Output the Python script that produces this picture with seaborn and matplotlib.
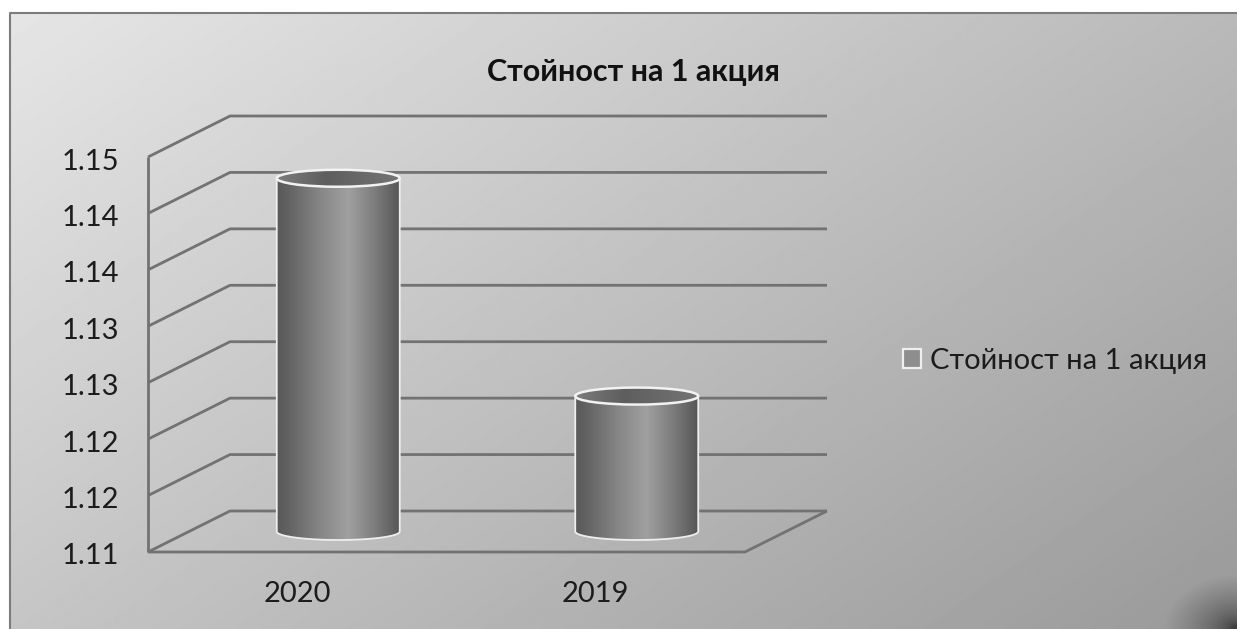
import numpy as np
import pandas as pd
import matplotlib
matplotlib.use("Agg")
import matplotlib.pyplot as plt
from matplotlib.colors import LinearSegmentedColormap
from matplotlib.patches import Ellipse, Patch, PathPatch
from matplotlib.path import Path
from matplotlib.transforms import Affine2D
import seaborn as sns

# Chart content
years = ["2020", "2019"]
share_values = [1.1463, 1.127]
series_name = "Стойност на 1 акция"
tick_values = [1.115, 1.12, 1.125, 1.13, 1.135, 1.14, 1.145, 1.15]
tick_labels = ["1.11", "1.12", "1.12", "1.13", "1.13", "1.14", "1.14", "1.15"]

W, H = 1237, 629
sns.set_theme(style="white")
plt.rcParams["font.family"] = ["Lato", "Noto Sans", "DejaVu Sans"]
INK = "#1c1c1c"
GRID = "#727272"

fig = plt.figure(figsize=(W / 100, H / 100), dpi=100, facecolor="white")

# Chart-area backdrop: diagonal grey gradient with a dark lower-right corner
bg = fig.add_axes([0, 0, 1, 1], zorder=0)
xx, yy = np.meshgrid(np.linspace(0, 1, W), np.linspace(0, 1, H))
shade = 0.90 - 0.30 * (0.58 * xx + 0.42 * yy)
corner = np.clip((np.hypot((1 - xx) * W, (1 - yy) * H * 1.35) - 5) / 68, 0, 1)
shade = shade * (0.42 + 0.58 * corner ** 0.6)
bg.imshow(shade, cmap="gray", vmin=0, vmax=1, aspect="auto",
          extent=(9, W, H, 12), interpolation="bilinear")
bg.plot([9.5, 9.5, W], [H, 12.5, 12.5], color="#7c7c7c", lw=1.5)
bg.set_xlim(0, W)
bg.set_ylim(H, 0)
bg.axis("off")

# Plot area: the front plane of the 3-D box
left, right, top, bottom = 148, 745, 157, 552
ax = fig.add_axes([left / W, 1 - bottom / H, (right - left) / W, (bottom - top) / H], zorder=1)
ax.patch.set_alpha(0)
frame = pd.DataFrame({"year": years, "value": share_values})
sns.barplot(data=frame, x="year", y="value", ax=ax, width=0.412, color="#808080", saturation=1)

ymin, ymax = tick_values[0], tick_values[-1]
ax.set_xlim(-0.5, 1.5)
ax.set_ylim(ymin, ymax)
unit_x = 2 / (right - left)
unit_y = (ymax - ymin) / (bottom - top)
depth_x, depth_y = 82 * unit_x, 41 * unit_y


def wall_line(xs, ys):
    ax.plot(xs, ys, color=GRID, lw=2.0, clip_on=False, zorder=1, solid_capstyle="butt")


# Side wall, back wall and floor
for v in tick_values:
    wall_line([-0.5, -0.5 + depth_x, 1.5 + depth_x], [v, v + depth_y, v + depth_y])
wall_line([-0.5, -0.5], [ymin, ymax])
wall_line([-0.5, 1.5, 1.5 + depth_x], [ymin, ymin, ymin + depth_y])

# Cylinders are built on the geometry of the seaborn bars
side_shade = LinearSegmentedColormap.from_list(
    "side", [(0, "#585858"), (0.12, "#666666"), (0.35, "#868686"), (0.58, "#a0a0a0"),
             (0.8, "#7c7c7c"), (1, "#565656")])
cap_shade = LinearSegmentedColormap.from_list(
    "cap", [(0, "#7c7c7c"), (0.4, "#5e5e5e"), (1, "#747474")])
ramp = np.linspace(0, 1, 256).reshape(1, -1)
ry = 8.5 * unit_y

for bar in list(ax.patches):
    x0 = bar.get_x() + depth_x / 2
    w = bar.get_width()
    h = bar.get_height()
    base = ymin + depth_y / 2
    tip = h + depth_y / 2
    cx = x0 + w / 2

    angles = np.linspace(np.pi, 2 * np.pi, 60)
    arc = np.column_stack([cx + w / 2 * np.cos(angles), base + ry * np.sin(angles)])
    outline = np.vstack([[[x0, tip]], arc, [[x0 + w, tip]]])
    bar.set_visible(False)

    body = ax.imshow(ramp, cmap=side_shade, vmin=0, vmax=1, aspect="auto", zorder=3,
                     extent=(x0, x0 + w, base - ry, tip), interpolation="bilinear")
    body.set_clip_path(PathPatch(Path(outline), transform=ax.transData))
    ax.add_patch(PathPatch(Path(outline), fc="none", ec="#eeeeee", lw=1.3, zorder=4, clip_on=False))

    cap = Ellipse((cx, tip), w, 2 * ry, fc="none", ec="#f2f2f2", lw=1.8, zorder=6, clip_on=False)
    cap_fill = ax.imshow(ramp, cmap=cap_shade, vmin=0, vmax=1, aspect="auto", zorder=5,
                         extent=(x0, x0 + w, tip - ry, tip + ry), interpolation="bilinear")
    cap_fill.set_clip_path(Ellipse((cx, tip), w, 2 * ry, transform=ax.transData))
    ax.add_patch(cap)

ax.set_xlim(-0.5, 1.5)
ax.set_ylim(ymin, ymax)

# Axis labels
ax.set_xlabel("")
ax.set_ylabel("")
ax.set_yticks(tick_values, tick_labels)
ax.tick_params(axis="y", length=0, pad=21, labelsize=21, labelcolor=INK)
ax.tick_params(axis="x", length=0, pad=21, labelsize=21, labelcolor=INK)
for label in ax.get_yticklabels():
    label.set_transform(label.get_transform() + Affine2D().translate(0, -2))
sns.despine(ax=ax, left=True, bottom=True)

# Title and legend
fig.text(633 / W, 1 - 72 / H, series_name, ha="center", va="center",
         fontsize=22, fontweight="bold", color="#111111", zorder=5)
fig.legend(handles=[Patch(fc="#8e8e8e", ec="#efefef", lw=1.6, label=series_name)],
           loc="center left", bbox_to_anchor=(903 / W, 1 - 360.5 / H), frameon=False,
           fontsize=21, labelcolor=INK, handlelength=0.62, handleheight=0.62,
           handletextpad=0.3, borderpad=0, borderaxespad=0)

fig.savefig("out.png", dpi=100)
